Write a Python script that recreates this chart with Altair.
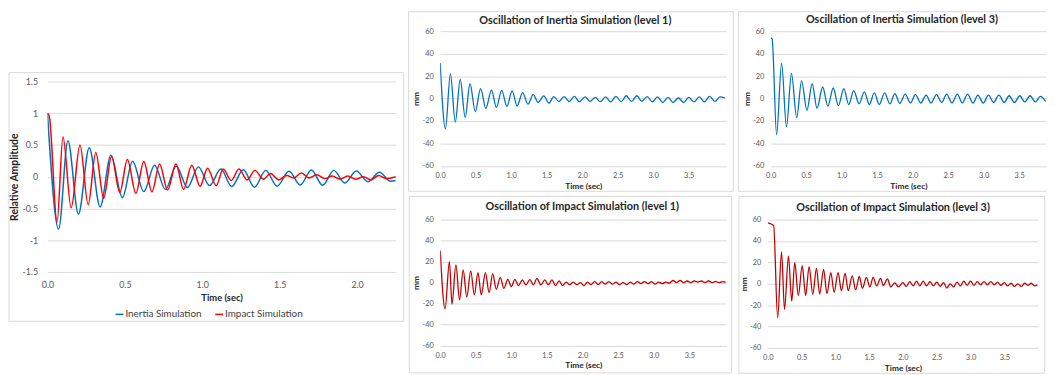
import altair as alt
import pandas as pd

# ---------------- data ----------------
series_names = ["Inertia Simulation", "Impact Simulation"]
rel_time_ticks = [0, 0.5, 1, 1.5, 2]
rel_value_ticks = [-1.5, -1, -0.5, 0, 0.5, 1, 1.5]
mm_ticks = [-60, -40, -20, 0, 20, 40, 60]
sec_ticks = [0, 0.5, 1, 1.5, 2, 2.5, 3, 3.5]

panel_titles = [
    "Oscillation of Inertia Simulation (level 1)",
    "Oscillation of Inertia Simulation (level 3)",
    "Oscillation of Impact Simulation (level 1)",
    "Oscillation of Impact Simulation  (level 3)",
]

# left chart: relative amplitude (turning points)
rel_inertia_t = [0, 0.072, 0.132, 0.2, 0.27, 0.34, 0.41, 0.484, 0.55, 0.622, 0.692, 0.762, 0.832,
                 0.904, 0.975, 1.047, 1.12, 1.19, 1.265, 1.337, 1.41, 1.483, 1.56, 1.633, 1.705,
                 1.777, 1.85, 1.92, 1.995, 2.07, 2.145, 2.215, 2.25]
rel_inertia_v = [1.0, -0.825, 0.566, -0.59, 0.457, -0.477, 0.34, -0.33, 0.244, -0.235, 0.18, -0.2,
                 0.17, -0.17, 0.155, -0.14, 0.12, -0.155, 0.11, -0.165, 0.1, -0.15, 0.085, -0.13,
                 0.105, -0.135, 0.1, -0.1, 0.09, -0.08, 0.07, -0.07, -0.06]
rel_impact_t = [0, 0.012, 0.062, 0.1, 0.153, 0.21, 0.263, 0.312, 0.363, 0.414, 0.467, 0.516, 0.571,
                0.622, 0.675, 0.724, 0.776, 0.83, 0.879, 0.932, 0.986, 1.034, 1.09, 1.135, 1.187,
                1.237, 1.29, 1.34, 1.395, 1.44, 1.495, 1.545, 1.59, 1.64, 1.69, 1.74, 1.79, 1.84,
                1.89, 1.94, 1.99, 2.04, 2.09, 2.14, 2.19, 2.25]
rel_impact_v = [1.0, 0.95, -0.72, 0.63, -0.49, 0.5, -0.44, 0.38, -0.34, 0.32, -0.25, 0.27, -0.26,
                0.24, -0.24, 0.2, -0.21, 0.2, -0.2, 0.18, -0.15, 0.135, -0.14, 0.12, -0.06, 0.12,
                -0.05, 0.1, -0.04, 0.05, -0.05, 0.02, -0.02, 0.06, -0.02, 0.03, -0.03, 0.01, -0.04,
                0.01, -0.04, 0.0, -0.05, 0.02, -0.03, 0.0]

# inertia simulation level 1 (mm)
in1_t = [0, 0.074, 0.144, 0.213, 0.282, 0.352, 0.42, 0.495, 0.569, 0.644, 0.722, 0.792, 0.866, 0.94,
         1.014, 1.083, 1.162, 1.236, 1.31, 1.38, 1.458, 1.532, 1.6, 1.67, 1.745, 1.819, 1.89, 1.96,
         2.04, 2.11, 2.185, 2.255, 2.33, 2.40, 2.475, 2.55, 2.62, 2.695, 2.77, 2.84, 2.915, 2.99,
         3.06, 3.135, 3.21, 3.28, 3.355, 3.43, 3.50, 3.575, 3.65, 3.72, 3.795, 3.87, 3.94, 4.01]
in1_v = [31.7, -27, 22, -21, 17, -16.7, 13.2, -11.7, 8.8, -8.8, 7.6, -7.9, 7.3, -7, 6.8, -6.5, 5.3,
         -5, 3.5, -3.5, 2.3, -4.1, 1.8, -2.6, 1.8, -2.6, 2.0, -3.0, 1.5, -2.5, 1.0, -2.8, 1.5, -3.0,
         2.0, -2.8, 2.5, -2.5, 2.5, -2.5, 1.8, -3.0, 1.5, -3.5, 1.0, -3.5, 0.5, -3.5, 1.0, -3.0, 1.5,
         -3.0, 2.0, -2.5, 1.5, 0.5]

# inertia simulation level 3 (mm) - panel cut at the right edge
in3_t = [0, 0.02, 0.083, 0.153, 0.222, 0.292, 0.366, 0.435, 0.51, 0.584, 0.653, 0.732, 0.806, 0.88,
         0.954, 1.03, 1.1, 1.17, 1.245, 1.32, 1.39, 1.46, 1.53, 1.605, 1.68, 1.75, 1.82, 1.895, 1.97,
         2.04, 2.115, 2.19, 2.26, 2.335, 2.41, 2.48, 2.555, 2.63, 2.7, 2.775, 2.85, 2.92, 2.995, 3.07,
         3.14, 3.215, 3.29, 3.36, 3.435, 3.51, 3.58, 3.655, 3.73, 3.8, 3.875]
in3_v = [54, 53, -32.3, 31.4, -25.2, 22.5, -17, 15.8, -10.6, 13.2, -8.8, 10.3, -6.7, 9.4, -6.2, 8.8,
         -5.3, 7.0, -4.7, 5.9, -5.3, 5, -5.3, 5, -4.7, 4.4, -4.4, 4, -4, 3.5, -4, 3, -4, 3.5, -3.5, 4,
         -4, 4, -4, 4, -4, 3, -4, 3, -3.5, 3, -3.5, 2.5, -3.5, 2.5, -3, 2.5, -3, 2, -2.5]

# impact simulation level 1 (mm)
im1_t = [0, 0.069, 0.13, 0.166, 0.221, 0.272, 0.323, 0.374, 0.429, 0.48, 0.531, 0.577, 0.636, 0.687,
         0.738, 0.789, 0.844, 0.895, 0.95, 1.0, 1.05, 1.1, 1.155, 1.205, 1.26, 1.31, 1.36, 1.415,
         1.47, 1.52, 1.57, 1.62, 1.67, 1.72, 1.77, 1.82, 1.87, 1.92, 1.97, 2.02, 2.07, 2.12, 2.17,
         2.22, 2.27, 2.32, 2.37, 2.42, 2.47, 2.52, 2.57, 2.62, 2.67, 2.72, 2.77, 2.82, 2.87, 2.92,
         2.97, 3.02, 3.07, 3.12, 3.17, 3.22, 3.27, 3.32, 3.37, 3.42, 3.47, 3.52, 3.57, 3.62, 3.67,
         3.72, 3.77, 3.82, 3.87, 3.92, 3.97, 4.01]
im1_v = [30.5, -25, 19.9, -20.5, 16.8, -16.4, 12, -13.9, 11.1, -11.7, 9.5, -11.7, 9.5, -9.5, 8.2,
         -6.3, 5, -5.5, 3, -3.8, 3, -3, 2.5, -2.2, 2.8, -2.2, 4, -2.2, 2.5, -2.2, 2.5, -2.8, 1.6,
         -2.8, 0.5, -2, 0.5, -2, 0, -3, 0.5, -2, 1, -2, 1, -1.5, 1, -1.5, 0.5, -2, 0, -2, 0.5, -1.5,
         1, -1, 1, -1, 1, -1.5, 0.5, -1, 0.5, -0.5, 2, 0, 2, 0, 1.5, 0, 1.5, 0.5, 1.5, 0, 1.5, 0, 1.2,
         0, 1, 0.2]

# impact simulation level 3 (mm)
im3_t = [0, 0.087, 0.146, 0.204, 0.248, 0.306, 0.355, 0.399, 0.452, 0.51, 0.56, 0.612, 0.666, 0.72,
         0.768, 0.826, 0.875, 0.933, 0.982, 1.04, 1.09, 1.145, 1.19, 1.25, 1.3, 1.355, 1.4, 1.46,
         1.51, 1.56, 1.61, 1.67, 1.71, 1.77, 1.82, 1.88, 1.93, 2.0, 2.05, 2.1, 2.15, 2.2, 2.25, 2.3,
         2.35, 2.4, 2.45, 2.5, 2.55, 2.6, 2.65, 2.7, 2.75, 2.8, 2.85, 2.9, 2.95, 3.0, 3.05, 3.1, 3.15,
         3.2, 3.25, 3.3, 3.35, 3.4, 3.45, 3.5, 3.55, 3.6, 3.65, 3.7, 3.75, 3.8, 3.85, 3.9, 3.95, 3.99]
im3_v = [57, 54.5, -32, 29.8, -24, 25.8, -16.3, 19.7, -11, 16.9, -11, 16, -10, 14.4, -9.6, 13.5,
         -9.2, 10.4, -8, 10.4, -6.5, 9.8, -6.5, 7.4, -5.8, 6.8, -4.3, 6, -3, 6, -2, 5, -1.8, 4.5, -3,
         0.9, -3, 1, -2.5, 2, -2, 2.5, -2, 2.5, -2, 2, -2, 1.5, -2.5, 1, -4, 0, -3, 1.5, -2, 2.5,
         -1.5, 2.5, -1.5, 2, -1, 2, -1, 2, -1, 1.5, -1.5, 1, -2, 0.5, -2.5, 0, -2.5, 0.5, -1.5, 0.5,
         -2, -1]

# ---------------- styling ----------------
BLUE = "#0070C0"
RED = "#FF0000"
DARK_RED = "#C00000"
GRID = "#D9D9D9"
FONT = "Lato"
one = pd.DataFrame({"k": [0]})


def frame_rect(x1, x2, y1, y2):
    return alt.Chart(one).mark_rect(
        filled=False, stroke=GRID, strokeWidth=1, clip=False
    ).encode(x=alt.value(x1), x2=alt.value(x2), y=alt.value(y1), y2=alt.value(y2))


def hrule(x1, x2, y):
    return alt.Chart(one).mark_rule(stroke=GRID, strokeWidth=1, clip=False).encode(
        x=alt.value(x1), x2=alt.value(x2), y=alt.value(y))


def vrule(x, y1, y2):
    return alt.Chart(one).mark_rule(stroke=GRID, strokeWidth=1, clip=False).encode(
        x=alt.value(x), y=alt.value(y1), y2=alt.value(y2))


def title_text(text, x, y):
    return alt.Chart(one).mark_text(
        text=text, font=FONT, fontSize=11, fontWeight="bold", color="#262626",
        align="center", baseline="middle", clip=False
    ).encode(x=alt.value(x), y=alt.value(y))


def small_panel(t, v, color, title, w, h, xmax, frame_layers, title_xy):
    df = pd.DataFrame({"t": t, "v": v})
    line = alt.Chart(df).transform_filter(alt.datum.t <= xmax).mark_line(
        color=color, strokeWidth=1.3, interpolate="monotone", clip=True
    ).encode(
        x=alt.X("t:Q", scale=alt.Scale(domain=[0, xmax], nice=False, zero=False),
                axis=alt.Axis(values=sec_ticks, format=".1f", grid=False, title="Time (sec)",
                              labelFontSize=7.5, labelPadding=6, labelFlush=False,
                              titleFontSize=8.5, titleFontWeight="bold", titlePadding=2)),
        y=alt.Y("v:Q", scale=alt.Scale(domain=[-60, 60], nice=False, zero=False),
                axis=alt.Axis(values=mm_ticks, labelExpr="'' + datum.value", title="mm",
                              labelFontSize=7.5, labelPadding=7, grid=True,
                              titleFontSize=8.5, titleFontWeight="bold", titlePadding=1)),
    )
    layers = frame_layers + [title_text(title, title_xy[0], title_xy[1]), line]
    return alt.layer(*layers).properties(width=w, height=h)


# ---------------- left chart ----------------
# plot area starts level with the small panels' plot areas; the gridded part (-1.5..1.5)
# sits in its lower 193 px, the space above is empty like the reference.
LW, GH = 353, 193          # gridded height
TOP_GAP = 51               # empty band above the 1.5 gridline
LH = GH + TOP_GAP
y_top = -1.5 + 3.0 * LH / GH

left_df = pd.concat([
    pd.DataFrame({"t": rel_inertia_t, "v": rel_inertia_v, "series": series_names[0]}),
    pd.DataFrame({"t": rel_impact_t, "v": rel_impact_v, "series": series_names[1]}),
], ignore_index=True)

left_line = alt.Chart(left_df).mark_line(strokeWidth=1.5, interpolate="monotone", clip=True).encode(
    x=alt.X("t:Q", scale=alt.Scale(domain=[0, 2.25], nice=False, zero=False),
            axis=alt.Axis(values=rel_time_ticks, format=".1f", grid=False, title="Time (sec)",
                          labelFontSize=9, labelPadding=9, labelFlush=False,
                          titleFontSize=9.5, titleFontWeight="bold", titlePadding=3)),
    y=alt.Y("v:Q", scale=alt.Scale(domain=[-1.5, y_top], nice=False, zero=False),
            axis=alt.Axis(values=rel_value_ticks, labelExpr="'' + datum.value", grid=True,
                          title="Relative Amplitude", labelFontSize=9, labelPadding=10,
                          titleFontSize=10.5, titleFontWeight="bold", titlePadding=2,
                          titleY=TOP_GAP + GH / 2)),
    color=alt.Color("series:N", sort=series_names,
                    scale=alt.Scale(domain=series_names, range=[BLUE, RED]),
                    legend=alt.Legend(orient="none", legendX=68, legendY=TOP_GAP + 231,
                                      direction="horizontal",
                                      title=None, symbolType="stroke", symbolStrokeWidth=1.5,
                                      symbolSize=64, labelFont=FONT, labelFontSize=10,
                                      labelColor="#404040", labelOffset=1, columnPadding=10)),
)

left = alt.layer(
    frame_rect(-39, LW + 8, TOP_GAP - 9, TOP_GAP + GH + 50),
    left_line,
).properties(width=LW, height=LH)

# ---------------- small panels ----------------
TOP_B = -19.7   # top frame line of the upper panels (sits at the page margin)

TLW, TLH = 290, 136.6
tl = small_panel(in1_t, in1_v, BLUE, panel_titles[0], TLW, TLH, 4.03,
                 [frame_rect(-32, TLW + 7, TOP_B, TLH + 25.7)], (137, -10.7))

TRW, TRH = 279, 136.6
tr = small_panel(in3_t, in3_v, BLUE, panel_titles[1], TRW, TRH, 3.88,
                 [hrule(-32.7, TRW, TOP_B), hrule(-32.7, TRW, TRH + 25.7),
                  vrule(-32.7, TOP_B, TRH + 25.7)],
                 (133, -11))

BLW, BLH = 290, 127.6
bl = small_panel(im1_t, im1_v, DARK_RED, panel_titles[2], BLW, BLH, 4.02,
                 [frame_rect(-31.3, BLW + 5.3, -23.5, BLH + 27.7)], (144, -12.7))

BRW, BRH = 274, 130
br = small_panel(im3_t, im3_v, DARK_RED, panel_titles[3], BRW, BRH, 4.0,
                 [frame_rect(-29.3, BRW + 6.7, -23.5, BRH + 25.7)], (127, -11.3))

right = alt.vconcat(
    alt.hconcat(tl, tr, spacing=3),
    alt.hconcat(bl, br, spacing=6),
    spacing=4,
)

chart = alt.hconcat(left, right, spacing=3).properties(padding=0).configure_view(
    strokeWidth=0
).configure_axis(
    labelFont=FONT, titleFont=FONT, domain=False, ticks=False, tickSize=0,
    gridColor=GRID, gridWidth=1, labelColor="#595959", titleColor="#262626"
)

chart.save("out.html", embed_options={"renderer": "svg", "actions": False})
